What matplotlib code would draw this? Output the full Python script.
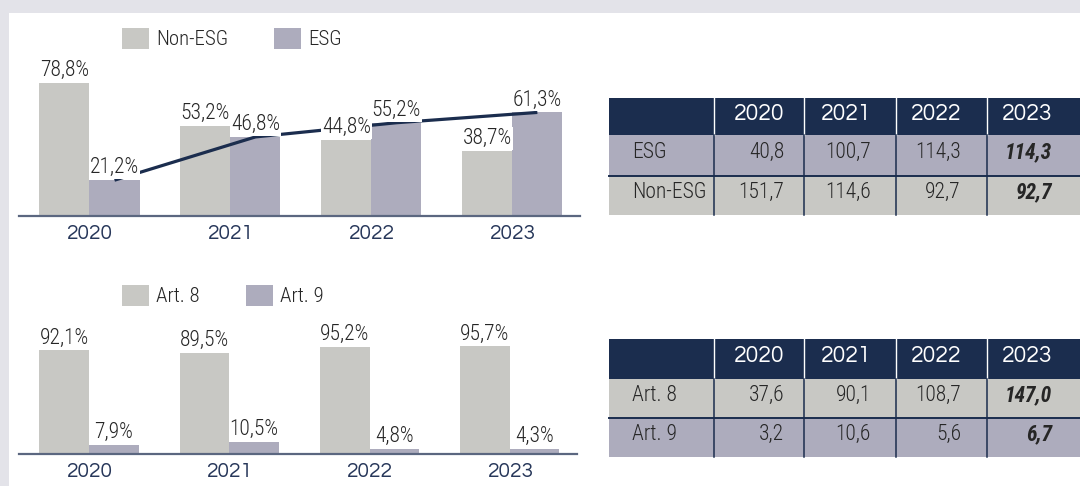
import numpy as np
import matplotlib
matplotlib.use("Agg")
import matplotlib.pyplot as plt
from matplotlib.patches import Rectangle

# data
years = ["2020", "2021", "2022", "2023"]
non_esg_pct = [78.8, 53.2, 44.8, 38.7]
esg_pct = [21.2, 46.8, 55.2, 61.3]
art8_pct = [92.1, 89.5, 95.2, 95.7]
art9_pct = [7.9, 10.5, 4.8, 4.3]

esg_vol = [40.8, 100.7, 114.3, 114.3]
non_esg_vol = [151.7, 114.6, 92.7, 92.7]
art8_vol = [37.6, 90.1, 108.7, 147.0]
art9_vol = [3.2, 10.6, 5.6, 6.7]

# colours / fonts
GREY = "#c8c8c4"
LAV = "#adacbd"
NAVY = "#1b2d4e"
AXIS = "#5b6780"
YEARCOL = "#27375a"
TXT = "#262626"
BG = "#e3e3e9"
NARROW = ["Roboto Condensed", "DejaVu Sans"]
WIDE = ["Questrial", "DejaVu Sans"]

W, H = 1080, 486


def fig_rect(left, top, right, bottom):
    return [left / W, 1 - bottom / H, (right - left) / W, (bottom - top) / H]


def num(v):
    return f"{v:.1f}".replace(".", ",")


fig = plt.figure(figsize=(W / 100, H / 100), dpi=100, facecolor=BG)

# overlay in pixel coords for panel + tables
axT = fig.add_axes([0, 0, 1, 1])
axT.set_xlim(0, W)
axT.set_ylim(H, 0)
axT.axis("off")
axT.add_patch(Rectangle((9, 13), W - 9, H - 13, facecolor="white", edgecolor="none"))


def bar_chart(rect, a, b, names, ymax, legend_xy, line=False):
    ax = fig.add_axes(fig_rect(*rect))
    ax.set_facecolor("none")
    x = np.arange(len(years))
    w = 0.355
    ax.bar(x - w / 2, a, w, color=GREY, label=names[0], zorder=1)
    ax.bar(x + w / 2, b, w, color=LAV, label=names[1], zorder=1)
    if line:
        ax.plot(x + w / 2, b, color=NAVY, lw=2.3, zorder=3, solid_capstyle="butt")
    for xs, vals in ((x - w / 2, a), (x + w / 2, b)):
        for xi, v in zip(xs, vals):
            ax.annotate(num(v) + "%", (xi, v), xytext=(0, 5), textcoords="offset points",
                        ha="center", va="baseline", fontsize=15.5, family=NARROW,
                        fontweight=300, color=TXT,
                        bbox=dict(facecolor="white", edgecolor="none", pad=0.6), zorder=4)
    ax.set_xlim(-0.5, 3.48)
    ax.set_ylim(0, ymax)
    ax.set_xticks(x)
    ax.set_xticklabels(years, family=WIDE, fontsize=15, color=YEARCOL)
    ax.tick_params(axis="x", length=0, pad=6)
    ax.set_yticks([])
    for s in ("top", "left", "right"):
        ax.spines[s].set_visible(False)
    ax.spines["bottom"].set_color(AXIS)
    ax.spines["bottom"].set_linewidth(1.6)
    h, l = ax.get_legend_handles_labels()
    fig.legend(h, l, loc="upper left", bbox_to_anchor=(legend_xy[0] / W, 1 - legend_xy[1] / H),
               ncol=2, frameon=False, prop={"family": NARROW, "size": 15, "weight": 300},
               handlelength=1.3, handleheight=1.15, handletextpad=0.35, columnspacing=2.2,
               borderaxespad=0, borderpad=0, labelcolor=TXT)
    return ax


bar_chart((19, 20, 580, 216), non_esg_pct, esg_pct, ["Non-ESG", "ESG"], 116, (122, 28), line=True)
bar_chart((19, 300, 577, 454), art8_pct, art9_pct, ["Art. 8", "Art. 9"], 137, (122, 285))

col_edges = [609, 714, 804, 896, 987, W]
val_x = [784, 871, 961, 1052]


def draw_table(rows_y, labels, rows, colours):
    top, hb = rows_y[0], rows_y[1]
    axT.add_patch(Rectangle((col_edges[0], top), W - col_edges[0], hb - top, facecolor=NAVY, edgecolor="none"))
    for xe in col_edges[1:-1]:
        axT.plot([xe, xe], [top, hb], color="white", lw=1)
    for j, yr in enumerate(years):
        axT.text(val_x[j], (top + hb) / 2 - 3, yr, ha="right", va="center", color="white",
                 fontsize=16.5, family=WIDE)
    for i, (lab, vals, c) in enumerate(zip(labels, rows, colours)):
        y0, y1 = rows_y[i + 1], rows_y[i + 2]
        axT.add_patch(Rectangle((col_edges[0], y0), W - col_edges[0], y1 - y0, facecolor=c, edgecolor="none"))
        for xe in col_edges[1:-1]:
            axT.plot([xe, xe], [y0, y1], color=NAVY, lw=1.1)
        axT.text(632, (y0 + y1) / 2 - 3, lab, ha="left", va="center", fontsize=15.5,
                 family=NARROW, fontweight=300, color=TXT)
        for j, v in enumerate(vals):
            last = j == len(vals) - 1
            axT.text(val_x[j], (y0 + y1) / 2 - 3, num(v), ha="right", va="center", fontsize=15.5,
                     family=NARROW, color=TXT,
                     fontweight="bold" if last else 300,
                     fontstyle="italic" if last else "normal")
    axT.plot([col_edges[0], W], [rows_y[2], rows_y[2]], color=NAVY, lw=1.4)


draw_table([98, 135, 176, 215], ["ESG", "Non-ESG"], [esg_vol, non_esg_vol], [LAV, GREY])
draw_table([339, 379, 418, 457], ["Art. 8", "Art. 9"], [art8_vol, art9_vol], [GREY, LAV])

fig.savefig("out.png", dpi=100, facecolor=BG)
